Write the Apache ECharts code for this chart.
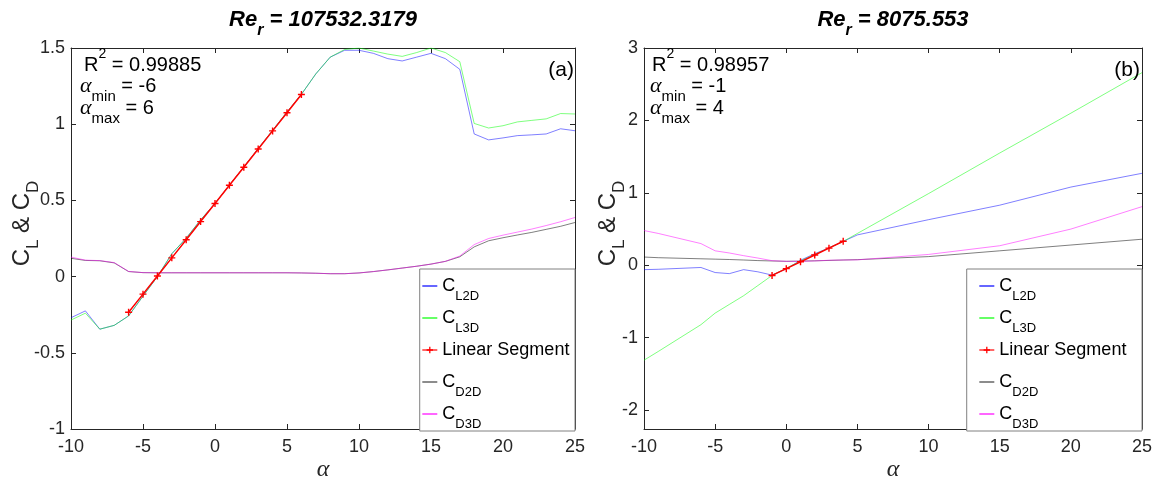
<!DOCTYPE html>
<html><head><meta charset="utf-8">
<script src="https://cdn.jsdelivr.net/npm/echarts@6/dist/echarts.min.js"></script>
<style>html,body{margin:0;padding:0;background:#fff}#c{width:1160px;height:487px}</style>
</head><body><div id="c"></div>
<script>
// ---------- DATA ----------
// Left panel (Re_r = 107532.3179)
const alphaL = [-10,-9,-8,-7,-6,-5,-4,-3,-2,-1,0,1,2,3,4,5,6,7,8,9,10,11,12,13,14,15,16,17,18,19,20,21,22,23,24,25];
const cl2dL = [-0.27,-0.225,-0.345,-0.32,-0.258,-0.128,0.0,0.15,0.252,0.372,0.48,0.60,0.72,0.84,0.96,1.08,1.196,1.33,1.44,1.485,1.485,1.465,1.43,1.415,1.44,1.465,1.43,1.36,0.936,0.897,0.91,0.925,0.93,0.936,0.97,0.957];
const cl3dL = [-0.285,-0.24,-0.345,-0.32,-0.258,-0.128,0.0,0.15,0.252,0.372,0.48,0.60,0.72,0.84,0.96,1.08,1.196,1.33,1.44,1.49,1.50,1.48,1.46,1.445,1.47,1.50,1.47,1.41,1.005,0.975,0.99,1.015,1.025,1.035,1.07,1.067];
const cd2dL = [0.12,0.106,0.104,0.09,0.033,0.026,0.025,0.025,0.025,0.025,0.025,0.025,0.025,0.025,0.025,0.025,0.024,0.022,0.019,0.019,0.024,0.033,0.044,0.056,0.068,0.082,0.1,0.13,0.195,0.235,0.255,0.273,0.29,0.31,0.33,0.355];
const cd3dL = [0.128,0.108,0.105,0.092,0.034,0.026,0.025,0.025,0.025,0.025,0.025,0.025,0.025,0.025,0.025,0.025,0.024,0.022,0.019,0.019,0.024,0.033,0.044,0.056,0.068,0.082,0.1,0.135,0.21,0.25,0.272,0.292,0.312,0.335,0.36,0.388];
const linAlphaL = [-6,-5,-4,-3,-2,-1,0,1,2,3,4,5,6];
const linL = [-0.234,-0.115,0.004,0.123,0.242,0.361,0.480,0.599,0.718,0.837,0.956,1.075,1.195];

// Right panel (Re_r = 8075.553)
const alphaR = [-10,-9,-6,-5,-4,-3,-2,-1,0,1,2,3,4,5,10,15,20,25];
const cl2dR = [-0.06,-0.055,-0.03,-0.10,-0.115,-0.06,-0.09,-0.135,-0.05,0.07,0.16,0.24,0.33,0.42,0.63,0.83,1.08,1.27];
const cl3dR = [-1.31,-1.19,-0.82,-0.66,-0.54,-0.42,-0.28,-0.14,-0.04,0.06,0.15,0.24,0.33,0.44,0.99,1.55,2.10,2.66];
const cd2dR = [0.114,0.105,0.09,0.085,0.08,0.073,0.065,0.06,0.055,0.058,0.062,0.067,0.073,0.078,0.12,0.20,0.28,0.36];
const cd3dR = [0.48,0.44,0.30,0.20,0.17,0.133,0.10,0.064,0.055,0.055,0.06,0.07,0.073,0.075,0.15,0.27,0.50,0.81];
const linAlphaR = [-1,0,1,2,3,4];
const linR = [-0.14,-0.046,0.048,0.142,0.237,0.332];

const xTicks = [-10,-5,0,5,10,15,20,25];
const yTicksL = [-1,-0.5,0,0.5,1,1.5];
const yTicksR = [-2,-1,0,1,2,3];

// ---------- STYLE ----------
const SANS = '"Liberation Sans", Arial, Helvetica, sans-serif';
const SERIF = '"Liberation Serif", "Times New Roman", serif';
const AX = '#262626';
const colors = {CL2D:'#0000ff', CL3D:'#00ff00', LIN:'#ff0000', CD2D:'#000000', CD3D:'#ff00ff'};
const names = ['CL2D','CL3D','Linear Segment','CD2D','CD3D'];
const PLUS = 'path://M4,0H6V4H10V6H6V10H4V6H0V4H4Z';

const pairs = (xs, ys) => xs.map((a, i) => [a, ys[i]]);

function curve(name, xs, ys, color, g) {
  return {name, type:'line', xAxisIndex:g*2, yAxisIndex:g*2, data:pairs(xs, ys),
    symbol:'none', showSymbol:false, silent:true, animation:false, z:2,
    lineStyle:{color, width:1, opacity:0.5}, itemStyle:{color}};
}
function linear(xs, ys, g) {
  return {name:'Linear Segment', type:'line', xAxisIndex:g*2, yAxisIndex:g*2, data:pairs(xs, ys),
    symbol:PLUS, symbolSize:7, showSymbol:true, showAllSymbol:true, silent:true, animation:false, z:3,
    lineStyle:{color:colors.LIN, width:1.5}, itemStyle:{color:colors.LIN}};
}

function xAx(g, top) {
  return {type:'value', gridIndex:g, min:-10, max:25, interval:5, position: top?'top':'bottom',
    axisLine:{show:true, onZero:false, lineStyle:{color:AX, width:1}},
    axisTick:{show:true, inside:true, length:5, lineStyle:{color:AX}},
    axisLabel:{show:!top, fontSize:18, color:AX, fontFamily:SANS, margin:9},
    splitLine:{show:false},
    name: top ? '' : 'α', nameLocation:'middle', nameGap:29, nameMoveOverlap:false,
    nameTextStyle:{fontFamily:SERIF, fontStyle:'italic', fontSize:24, color:AX}};
}
const yName = '{c|C}{s|L}{c| & C}{s|D}';
const yNameStyle = {fontFamily:SANS, fontSize:24, color:AX, padding:[0,0,0,30], rich:{
  c:{fontFamily:SANS, fontSize:24, color:AX, lineHeight:40, verticalAlign:'middle'},
  s:{fontFamily:SANS, fontSize:17, color:AX, lineHeight:17, verticalAlign:'bottom'}}};
function yAx(g, right, min, max, ticks, gap) {
  const o = {type:'value', gridIndex:g, min, max, position: right?'right':'left',
    axisLine:{show:true, onZero:false, lineStyle:{color:AX, width:1}},
    axisTick:{show:true, inside:true, length:5, lineStyle:{color:AX}, customValues:ticks},
    axisLabel:{show:!right, fontSize:18, color:AX, fontFamily:SANS, margin:6, customValues:ticks},
    splitLine:{show:false}};
  if (!right) { o.name = yName; o.nameLocation='middle'; o.nameRotate=90; o.nameGap=gap; o.nameMoveOverlap=false; o.nameTextStyle=yNameStyle; }
  return o;
}

const legendFmt = {'CL2D':'{c|C}{s|L2D}','CL3D':'{c|C}{s|L3D}','Linear Segment':'{c|Linear Segment}{s| }','CD2D':'{c|C}{s|D2D}','CD3D':'{c|C}{s|D3D}'};
const legendColors = {'CL2D':colors.CL2D,'CL3D':colors.CL3D,'Linear Segment':colors.LIN,'CD2D':'#404040','CD3D':colors.CD3D};
function legend(right, padLR) {
  return {orient:'vertical', right, bottom:56, itemWidth:15, itemHeight:8, itemGap:6,
    padding:[8,padLR,0,padLR], backgroundColor:'#ffffff', borderColor:'#808080', borderWidth:1,
    selectedMode:false, z:10,
    data: names.map(n => {
      const isLin = n === 'Linear Segment';
      return {name:n, lineStyle:{color:legendColors[n], width:1.2, opacity:1},
        itemStyle: isLin ? {color:legendColors[n], opacity:1} : {color:'rgba(0,0,0,0)', opacity:0, borderWidth:0}};
    }),
    formatter: n => legendFmt[n],
    textStyle:{fontFamily:SANS, fontSize:18, color:'#000', rich:{
      c:{fontFamily:SANS, fontSize:18, color:'#000', lineHeight:34, verticalAlign:'middle'},
      s:{fontFamily:SANS, fontSize:13, color:'#000', lineHeight:13, verticalAlign:'bottom'}}}};
}

// rich text helpers for graphic (zrender style names)
const richG = {
  t:{fontFamily:SANS, fontSize:20, fill:'#000', lineHeight:36, verticalAlign:'middle'},
  p:{fontFamily:SANS, fontSize:21, fill:'#000', lineHeight:36, verticalAlign:'middle'},
  a:{fontFamily:SERIF, fontStyle:'italic', fontSize:22, fill:'#000', lineHeight:36, verticalAlign:'middle'},
  s:{fontFamily:SANS, fontSize:15, fill:'#000', lineHeight:15, verticalAlign:'bottom'},
  u:{fontFamily:SANS, fontSize:14, fill:'#000', lineHeight:14, verticalAlign:'top'},
  b:{fontFamily:SANS, fontSize:22, fontWeight:'bold', fontStyle:'italic', fill:'#000', lineHeight:38, verticalAlign:'middle'},
  bs:{fontFamily:SANS, fontSize:16, fontWeight:'bold', fontStyle:'italic', fill:'#000', lineHeight:16, verticalAlign:'bottom'}
};
function gtext(text, x, y, align) {
  return {type:'text', x, y, z:20, silent:true,
    style:{text, align: align||'left', verticalAlign:'middle', rich:richG, fill:'#000'}};
}

const option = {
  backgroundColor:'#ffffff',
  animation:false,
  grid:[{left:71, top:48, width:504, height:383}, {left:644, top:48, width:498, height:383}],
  xAxis:[xAx(0,false), xAx(0,true), xAx(1,false), xAx(1,true)],
  yAxis:[yAx(0,false,-1,1.5,yTicksL,29), yAx(0,true,-1,1.5,yTicksL), yAx(1,false,-2.26,3,yTicksR,16), yAx(1,true,-2.26,3,yTicksR)],
  legend:[legend(585, 2), legend(18, 12)],
  series:[
    curve('CL2D', alphaL, cl2dL, colors.CL2D, 0),
    curve('CL3D', alphaL, cl3dL, colors.CL3D, 0),
    linear(linAlphaL, linL, 0),
    curve('CD2D', alphaL, cd2dL, colors.CD2D, 0),
    curve('CD3D', alphaL, cd3dL, colors.CD3D, 0),
    curve('CL2D', alphaR, cl2dR, colors.CL2D, 1),
    curve('CL3D', alphaR, cl3dR, colors.CL3D, 1),
    linear(linAlphaR, linR, 1),
    curve('CD2D', alphaR, cd2dR, colors.CD2D, 1),
    curve('CD3D', alphaR, cd3dR, colors.CD3D, 1)
  ],
  graphic:[
    gtext('{b|Re}{bs|r}{b| = 107532.3179}', 323, 20, 'center'),
    gtext('{b|Re}{bs|r}{b| = 8075.553}', 893, 20, 'center'),
    gtext('{t|R}{u|2}{t| = 0.99885}', 84, 65),
    gtext('{a|α}{s|min}{t| = -6}', 80, 86),
    gtext('{a|α}{s|max}{t| = 6}', 80, 108),
    gtext('{p|(a)}', 574, 70, 'right'),
    gtext('{t|R}{u|2}{t| = 0.98957}', 652, 65),
    gtext('{a|α}{s|min}{t| = -1}', 650, 86),
    gtext('{a|α}{s|max}{t| = 4}', 650, 108),
    gtext('{p|(b)}', 1140, 70, 'right')
  ]
};
const chart = echarts.init(document.getElementById('c'), null, {renderer:'canvas'});
chart.setOption(option);
</script></body></html>
